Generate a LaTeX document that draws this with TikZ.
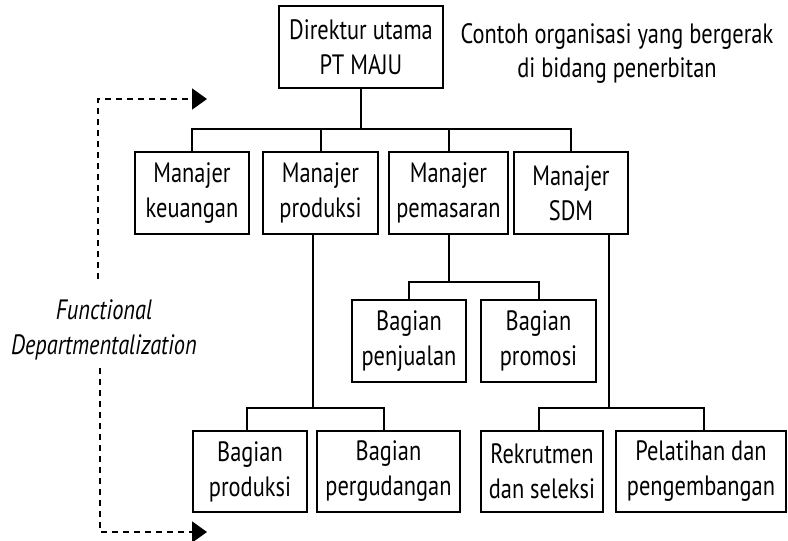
\documentclass[tikz,border=0pt]{standalone}
\usepackage{fontspec}
\setmainfont{PT Sans}[FakeStretch=0.8]
\usetikzlibrary{arrows.meta}
\begin{document}
\begin{tikzpicture}[x=1pt,y=-1pt,
  box/.style={draw,line width=2.2pt,align=center,inner sep=0pt,minimum height=82pt,font=\fontsize{28}{35}\selectfont},
  conn/.style={line width=2pt},
  dline/.style={line width=2pt,dash pattern=on 6pt off 5pt,-{Triangle[length=15pt,width=21pt]}},
  lbl/.style={align=center,inner sep=0pt,font=\fontsize{28}{34}\selectfont}]
\useasboundingbox (0,0) rectangle (788,541);
% boxes
\node[box,minimum width=164pt] (dir) at (361,47) {Direktur utama\\PT MAJU};
\node[box,minimum width=114pt] (mk) at (192,193) {Manajer\\keuangan};
\node[box,minimum width=115pt] (mp) at (320.5,193) {Manajer\\produksi};
\node[box,minimum width=119pt] (mm) at (448.5,193) {Manajer\\pemasaran};
\node[box,minimum width=114pt] (ms) at (571,193) {Manajer\\SDM};
\node[box,minimum width=114pt] (bj) at (409,341) {Bagian\\penjualan};
\node[box,minimum width=115pt] (bpr) at (538.5,341) {Bagian\\promosi};
\node[box,minimum width=114pt,minimum height=81pt] (bp) at (250,471.5) {Bagian\\produksi};
\node[box,minimum width=143pt,minimum height=81pt] (bg) at (388.5,471.5) {Bagian\\pergudangan};
\node[box,minimum width=122pt,minimum height=81pt] (rk) at (542,471.5) {Rekrutmen\\dan seleksi};
\node[box,minimum width=170pt,minimum height=81pt] (pl) at (701,471.5) {Pelatihan dan\\pengembangan};
% labels
\node[lbl] (title) at (617,53) {Contoh organisasi yang bergerak\\di bidang penerbitan};
\node[lbl,font=\fontsize{28}{35}\selectfont\itshape] (fd) at (104,330) {Functional\\Departmentalization};
% junctions
\coordinate (j1) at (361,129);
\coordinate (j2) at (448.5,282);
\coordinate (j3) at (313,408);
\coordinate (j4) at (609,408);
% connectors level 1
\draw[conn] (dir.south) -- (j1);
\draw[conn] (mk.north) |- (ms.north |- j1) -- (ms.north);
\draw[conn] (mp.north) -- (mp.north |- j1);
\draw[conn] (mm.north) -- (mm.north |- j1);
% pemasaran
\draw[conn] (mm.south) -- (j2);
\draw[conn] (bj.north) |- (bpr.north |- j2) -- (bpr.north);
% produksi
\draw[conn] (mp.south -| j3) -- (j3);
\draw[conn] ([xshift=-3pt]bp.north) |- ([xshift=-5pt]bg.north |- j3) -- ([xshift=-5pt]bg.north);
% SDM
\draw[conn] (ms.south -| j4) -- (j4);
\draw[conn] ([xshift=-3pt]rk.north) |- ([xshift=3pt]pl.north |- j4) -- ([xshift=3pt]pl.north);
% dashed arrows
\coordinate (c1) at (98,279);
\coordinate (a1) at (207,99);
\coordinate (c2) at (100,368);
\coordinate (a2) at (207,532);
\draw[dline] (c1) |- (a1);
\draw[dline] (c2) |- (a2);
\end{tikzpicture}
\end{document}
